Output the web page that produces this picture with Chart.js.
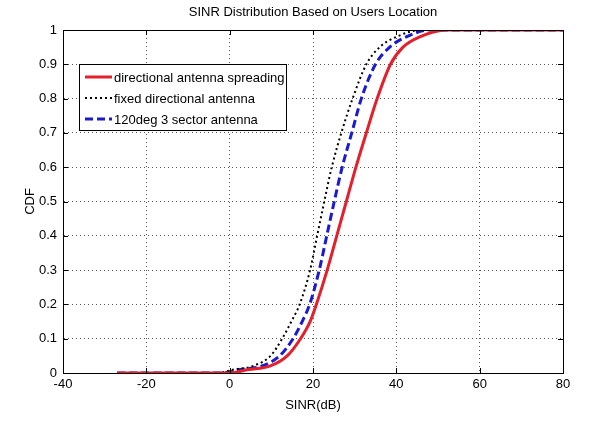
<!DOCTYPE html>
<html>
<head>
<meta charset="utf-8">
<script src="https://cdn.jsdelivr.net/npm/chart.js@4/dist/chart.umd.min.js"></script>
<style>
  html, body { margin: 0; padding: 0; background: #fff; }
  #wrap { width: 608px; height: 423px; }
</style>
</head>
<body>
<div id="wrap"><canvas id="c"></canvas></div>
<script>
// CDF levels shared by all curves, and the SINR (dB) where each curve reaches them
const cdfLevels  = [0,   0,  0.01, 0.02, 0.05, 0.1,  0.15, 0.2,  0.3,  0.4,  0.5,  0.6,  0.7,  0.8,  0.9,  0.95, 0.98, 1,  1];
const spreadingX = [-27, 0,  4.5,  9.6,  13.8, 17.0, 19.3, 20.8, 23.4, 25.7, 28.0, 30.3, 32.8, 35.4, 38.6, 41.6, 45.6, 52, 80];
const fixedX     = [-27, -3, 1.0,  5.5,  9.8,  12.6, 14.8, 16.8, 19.3, 21.0, 22.7, 24.5, 26.8, 29.5, 32.8, 36.0, 40.0, 46, 80];
const sectorX    = [-27, -2, 2.5,  7.6,  12.0, 15.2, 17.4, 19.2, 21.5, 23.3, 25.1, 27.0, 29.3, 31.6, 35.0, 38.4, 42.4, 48, 80];

const seriesNames = ['directional antenna spreading', 'fixed directional antenna', '120deg 3 sector antenna'];
const xTicks = [-40, -20, 0, 20, 40, 60, 80];
const yTicks = [0, 0.1, 0.2, 0.3, 0.4, 0.5, 0.6, 0.7, 0.8, 0.9, 1];

const FONT = "'Liberation Sans', Arial, Helvetica, sans-serif";

function pts(xs) {
  return cdfLevels.map((p, i) => ({ x: xs[i], y: p }));
}

// title, box frame, inward ticks and the in-plot legend
const matlabLook = {
  id: 'matlabLook',
  afterDraw(chart) {
    const ctx = chart.ctx;
    const a = chart.chartArea;
    const xs = chart.scales.x, ys = chart.scales.y;
    ctx.save();

    ctx.fillStyle = '#000';
    ctx.font = '13px ' + FONT;
    ctx.textAlign = 'center';
    ctx.textBaseline = 'middle';
    ctx.fillText('SINR Distribution Based on Users Location', (a.left + a.right) / 2, 12);

    ctx.strokeStyle = '#000';
    ctx.lineWidth = 1;
    ctx.beginPath();
    xTicks.forEach(v => {
      const px = Math.round(xs.getPixelForValue(v)) + 0.5;
      ctx.moveTo(px, a.bottom); ctx.lineTo(px, a.bottom - 5);
      ctx.moveTo(px, a.top); ctx.lineTo(px, a.top + 5);
    });
    yTicks.forEach(v => {
      const py = Math.round(ys.getPixelForValue(v)) + 0.5;
      ctx.moveTo(a.left, py); ctx.lineTo(a.left + 5, py);
      ctx.moveTo(a.right, py); ctx.lineTo(a.right - 5, py);
    });
    ctx.stroke();
    ctx.strokeRect(Math.round(a.left) + 0.5, Math.round(a.top) + 0.5,
                   Math.round(a.right - a.left), Math.round(a.bottom - a.top));

    // legend
    const bx = 79, by = 64, bw = 207, bh = 66;
    ctx.fillStyle = '#fff';
    ctx.fillRect(bx, by, bw, bh);
    ctx.strokeRect(bx + 0.5, by + 0.5, bw, bh);
    ctx.font = '13px ' + FONT;
    ctx.textAlign = 'left';
    chart.data.datasets.forEach((ds, i) => {
      const y = by + 13 + i * 21;
      ctx.save();
      ctx.strokeStyle = ds.borderColor;
      ctx.lineWidth = ds.borderWidth;
      ctx.setLineDash(ds.borderDash || []);
      ctx.beginPath();
      ctx.moveTo(bx + 6, y); ctx.lineTo(bx + 33, y);
      ctx.stroke();
      ctx.restore();
      ctx.fillStyle = '#000';
      ctx.fillText(ds.label, bx + 35, y + 1);
    });
    ctx.restore();
  }
};

new Chart(document.getElementById('c'), {
  type: 'scatter',
  data: {
    datasets: [
      { label: seriesNames[0], data: pts(spreadingX), borderColor: '#e3202b', borderWidth: 3,
        showLine: true, pointRadius: 0, cubicInterpolationMode: 'monotone' },
      { label: seriesNames[1], data: pts(fixedX), borderColor: '#000000', borderWidth: 2, borderDash: [2, 3],
        showLine: true, pointRadius: 0, cubicInterpolationMode: 'monotone' },
      { label: seriesNames[2], data: pts(sectorX), borderColor: '#1a1ad0', borderWidth: 3, borderDash: [8, 4],
        showLine: true, pointRadius: 0, cubicInterpolationMode: 'monotone' }
    ]
  },
  options: {
    responsive: true,
    maintainAspectRatio: false,
    animation: false,
    layout: { padding: { left: 23, top: 30, right: 45, bottom: 6 } },
    plugins: { legend: { display: false }, title: { display: false }, tooltip: { enabled: false } },
    scales: {
      x: {
        type: 'linear', min: -40, max: 80,
        afterBuildTicks: s => { s.ticks = xTicks.map(v => ({ value: v })); },
        afterFit: s => { s.height = 44; },
        ticks: { color: '#000', font: { family: FONT, size: 13 }, padding: 4 },
        grid: { color: '#555', lineWidth: 1, drawTicks: false },
        border: { display: true, color: '#000', dash: [1, 3] },
        title: { display: true, text: 'SINR(dB)', color: '#000', font: { family: FONT, size: 13 }, padding: { top: 2 } }
      },
      y: {
        type: 'linear', min: 0, max: 1,
        afterBuildTicks: s => { s.ticks = yTicks.map(v => ({ value: v })); },
        afterFit: s => { s.width = 40; },
        ticks: { color: '#000', font: { family: FONT, size: 13 }, padding: 6,
                 callback: v => String(Math.round(v * 10) / 10) },
        grid: { color: '#555', lineWidth: 1, drawTicks: false },
        border: { display: true, color: '#000', dash: [1, 3] },
        title: { display: true, text: 'CDF', color: '#000', font: { family: FONT, size: 13 }, padding: 0 }
      }
    }
  },
  plugins: [matlabLook]
});
</script>
</body>
</html>
